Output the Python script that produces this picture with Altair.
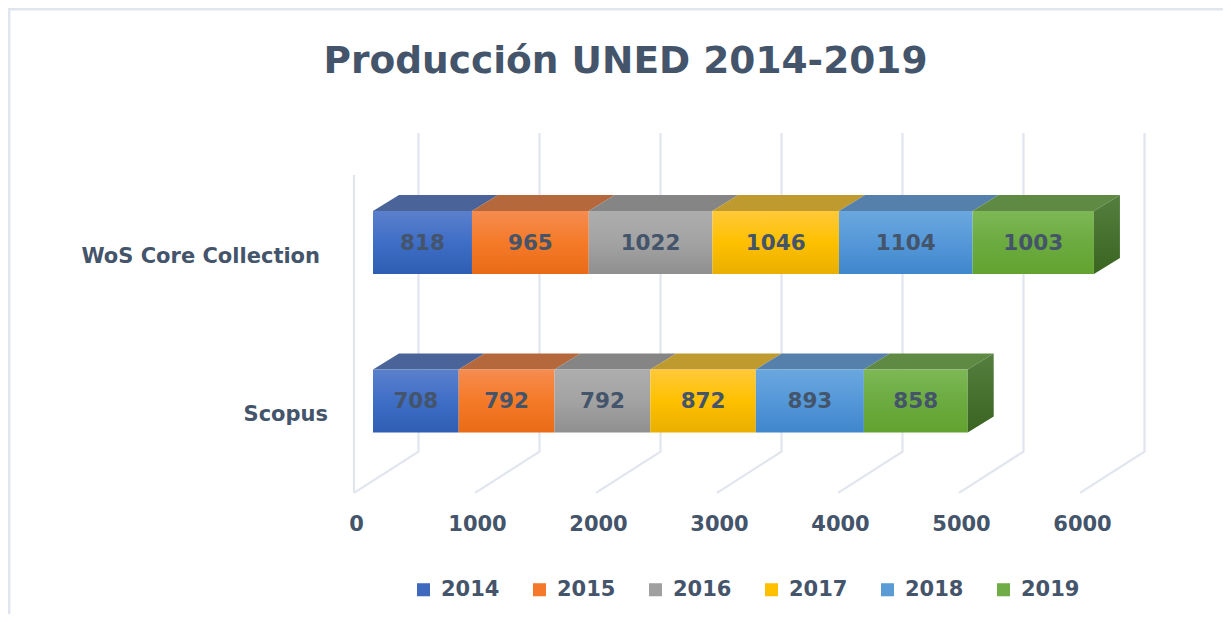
import altair as alt
import pandas as pd

# --- chart values
categories = ["Scopus", "WoS Core Collection"]
years = ["2014", "2015", "2016", "2017", "2018", "2019"]
scopus = [708, 792, 792, 872, 893, 858]
wos = [818, 965, 1022, 1046, 1104, 1003]
ticks = [0, 1000, 2000, 3000, 4000, 5000, 6000]
title_text = "Producción UNED 2014-2019"

# --- styles per year
legend_colors = ["#3F69BD", "#F4792B", "#A0A0A0", "#FFC000", "#5B9BD5", "#70AD47"]
top_colors = ["#4A6499", "#B5683C", "#858585", "#BF9A2F", "#5580AB", "#5F8A44"]
front_stops = [
    ["#5B80CC", "#3F6EC6", "#2E5DB3"],
    ["#F58C50", "#F57A28", "#E96B16"],
    ["#ADADAD", "#A3A3A3", "#8F8F8F"],
    ["#FFC93A", "#FFC000", "#E8AF00"],
    ["#6AA7DF", "#5598D8", "#3F86CC"],
    ["#7DB856", "#6CAB40", "#62A32F"],
]
side_stops = ["#547F3E", "#3A6420"]
text_color = "#44546A"
grid_color = "#E1E5EE"
font = "DejaVu Sans"

# --- frame of the chart (pixels of the plot area)
W, H = 1215, 397
PX_X = 0.121      # pixels per unit on the value axis
PX_Y = 158.5      # pixels per row
xscale = alt.Scale(domain=[-365 / PX_X, 850 / PX_X], nice=False, zero=False)
yscale = alt.Scale(domain=[-104 / PX_Y, 293 / PX_Y], nice=False, zero=False)
half = 31.6 / PX_Y
dep_x = 26 / PX_X
dep_y = 16 / PX_Y
wall_front, wall_back = -157, 376
floor_front, floor_back, wall_top, left_top = -0.58, -0.319, 1.691, 1.426

x_axis = alt.Axis(values=ticks, domain=False, ticks=False, grid=False, labelFont=font,
                  labelFontWeight="bold", labelFontSize=21, labelColor=text_color,
                  labelPadding=8, labelOffset=-17, format="d", labelFlush=False,
                  labelOverlap=False, title=None)


def X(field="x"):
    return alt.X(f"{field}:Q", scale=xscale, title=None, axis=x_axis)


def Y(field="y"):
    return alt.Y(f"{field}:Q", scale=yscale, title=None, axis=None, stack=None)


def grad(stops):
    n = len(stops) - 1
    return alt.LinearGradient(
        gradient="linear", x1=0, x2=0, y1=0, y2=1,
        stops=[alt.GradientStop(color=c, offset=i / n) for i, c in enumerate(stops)],
    )


layers = []

# gridlines on floor and back wall
rows = []
for t in ticks:
    rows += [
        dict(k=t, x=t + wall_front, y=floor_front, o=0),
        dict(k=t, x=t + wall_back, y=floor_back, o=1),
        dict(k=t, x=t + wall_back, y=wall_top, o=2),
    ]
rows += [dict(k=-1, x=wall_front, y=floor_front, o=0), dict(k=-1, x=wall_front, y=left_top, o=1)]
layers.append(
    alt.Chart(pd.DataFrame(rows)).mark_line(color=grid_color, strokeWidth=2.2).encode(
        x=X(), y=Y(), detail="k:N", order="o:Q",
    )
)

# legend carrier
layers.append(
    alt.Chart(pd.DataFrame({"year": years})).mark_square(size=0, opacity=1).encode(
        x=alt.value(0), y=alt.value(0),
        color=alt.Color(
            "year:N",
            scale=alt.Scale(domain=years, range=legend_colors),
            legend=alt.Legend(
                title=None, orient="none", legendX=405, legendY=471, direction="horizontal",
                columns=6, symbolType="square", symbolSize=170, symbolStrokeWidth=0, symbolOpacity=1,
                labelFont=font, labelFontWeight="bold", labelFontSize=21, labelColor=text_color,
                labelOffset=7, columnPadding=29, labelLimit=120,
            ),
        ),
    )
)

# the 3D boxes
texts = []
for r, (cat, values) in enumerate(zip(categories, [scopus, wos])):
    start = 0
    for i, v in enumerate(values):
        end = start + v
        top = r + half
        bottom = r - half
        back = top + dep_y
        face = pd.DataFrame({
            "x": [start, start + dep_x, end, end + dep_x],
            "y": [top, back, back, back],
            "y2": [top, top, top, back],
        })
        layers.append(
            alt.Chart(face).mark_area(color=top_colors[i], orient="vertical").encode(
                x=X(), y=Y(), y2="y2:Q"
            )
        )
        front = pd.DataFrame([dict(x=start, x2=end, y=top, y2=bottom)])
        layers.append(
            alt.Chart(front).mark_rect(color=grad(front_stops[i])).encode(
                x=X(), x2="x2:Q", y=Y(), y2="y2:Q"
            )
        )
        texts.append(dict(x=(start + end) / 2, y=r, label=str(v)))
        start = end
    side = pd.DataFrame({
        "x": [start, start + dep_x],
        "y": [top, back],
        "y2": [bottom, bottom + dep_y],
    })
    layers.append(
        alt.Chart(side).mark_area(color=grad(side_stops), orient="vertical").encode(
            x=X(), y=Y(), y2="y2:Q"
        )
    )

# value labels
layers.append(
    alt.Chart(pd.DataFrame(texts)).mark_text(
        font=font, fontWeight="bold", fontSize=21.5, color=text_color, baseline="middle", align="center", dy=1
    ).encode(x=X(), y=Y(), text="label:N")
)

# category labels
cat_df = pd.DataFrame({
    "label": categories,
    "y": [0, 1],
    "x": [-45 / PX_X, -53 / PX_X],
})
layers.append(
    alt.Chart(cat_df).mark_text(
        font=font, fontWeight="bold", fontSize=21, color=text_color, baseline="middle", align="right", dy=14
    ).encode(x=X(), y=Y(), text="label:N")
)

# thin frame of the picture
layers.append(
    alt.Chart(pd.DataFrame({"a": [0]})).mark_rule(color=grid_color, strokeWidth=3).encode(
        x=alt.value(1), y=alt.value(-100), y2=alt.value(H + 109)
    )
)
layers.append(
    alt.Chart(pd.DataFrame({"a": [0]})).mark_rule(color=grid_color, strokeWidth=3).encode(
        y=alt.value(-99), x=alt.value(0), x2=alt.value(W)
    )
)

chart = (
    alt.layer(*layers)
    .properties(
        width=W,
        height=H,
        padding={"left": 0, "right": 0, "top": 100, "bottom": 109},
        autosize=alt.AutoSizeParams(type="none"),
        title=alt.TitleParams(
            title_text, font=font, fontSize=37.5, fontWeight="bold", color=text_color,
            anchor="middle", dx=10, offset=-74,
        ),
    )
    .configure_view(stroke=None)
    .resolve_scale(x="shared", y="shared")
)

chart.save("out.html", embed_options={"renderer": "svg", "actions": False})
